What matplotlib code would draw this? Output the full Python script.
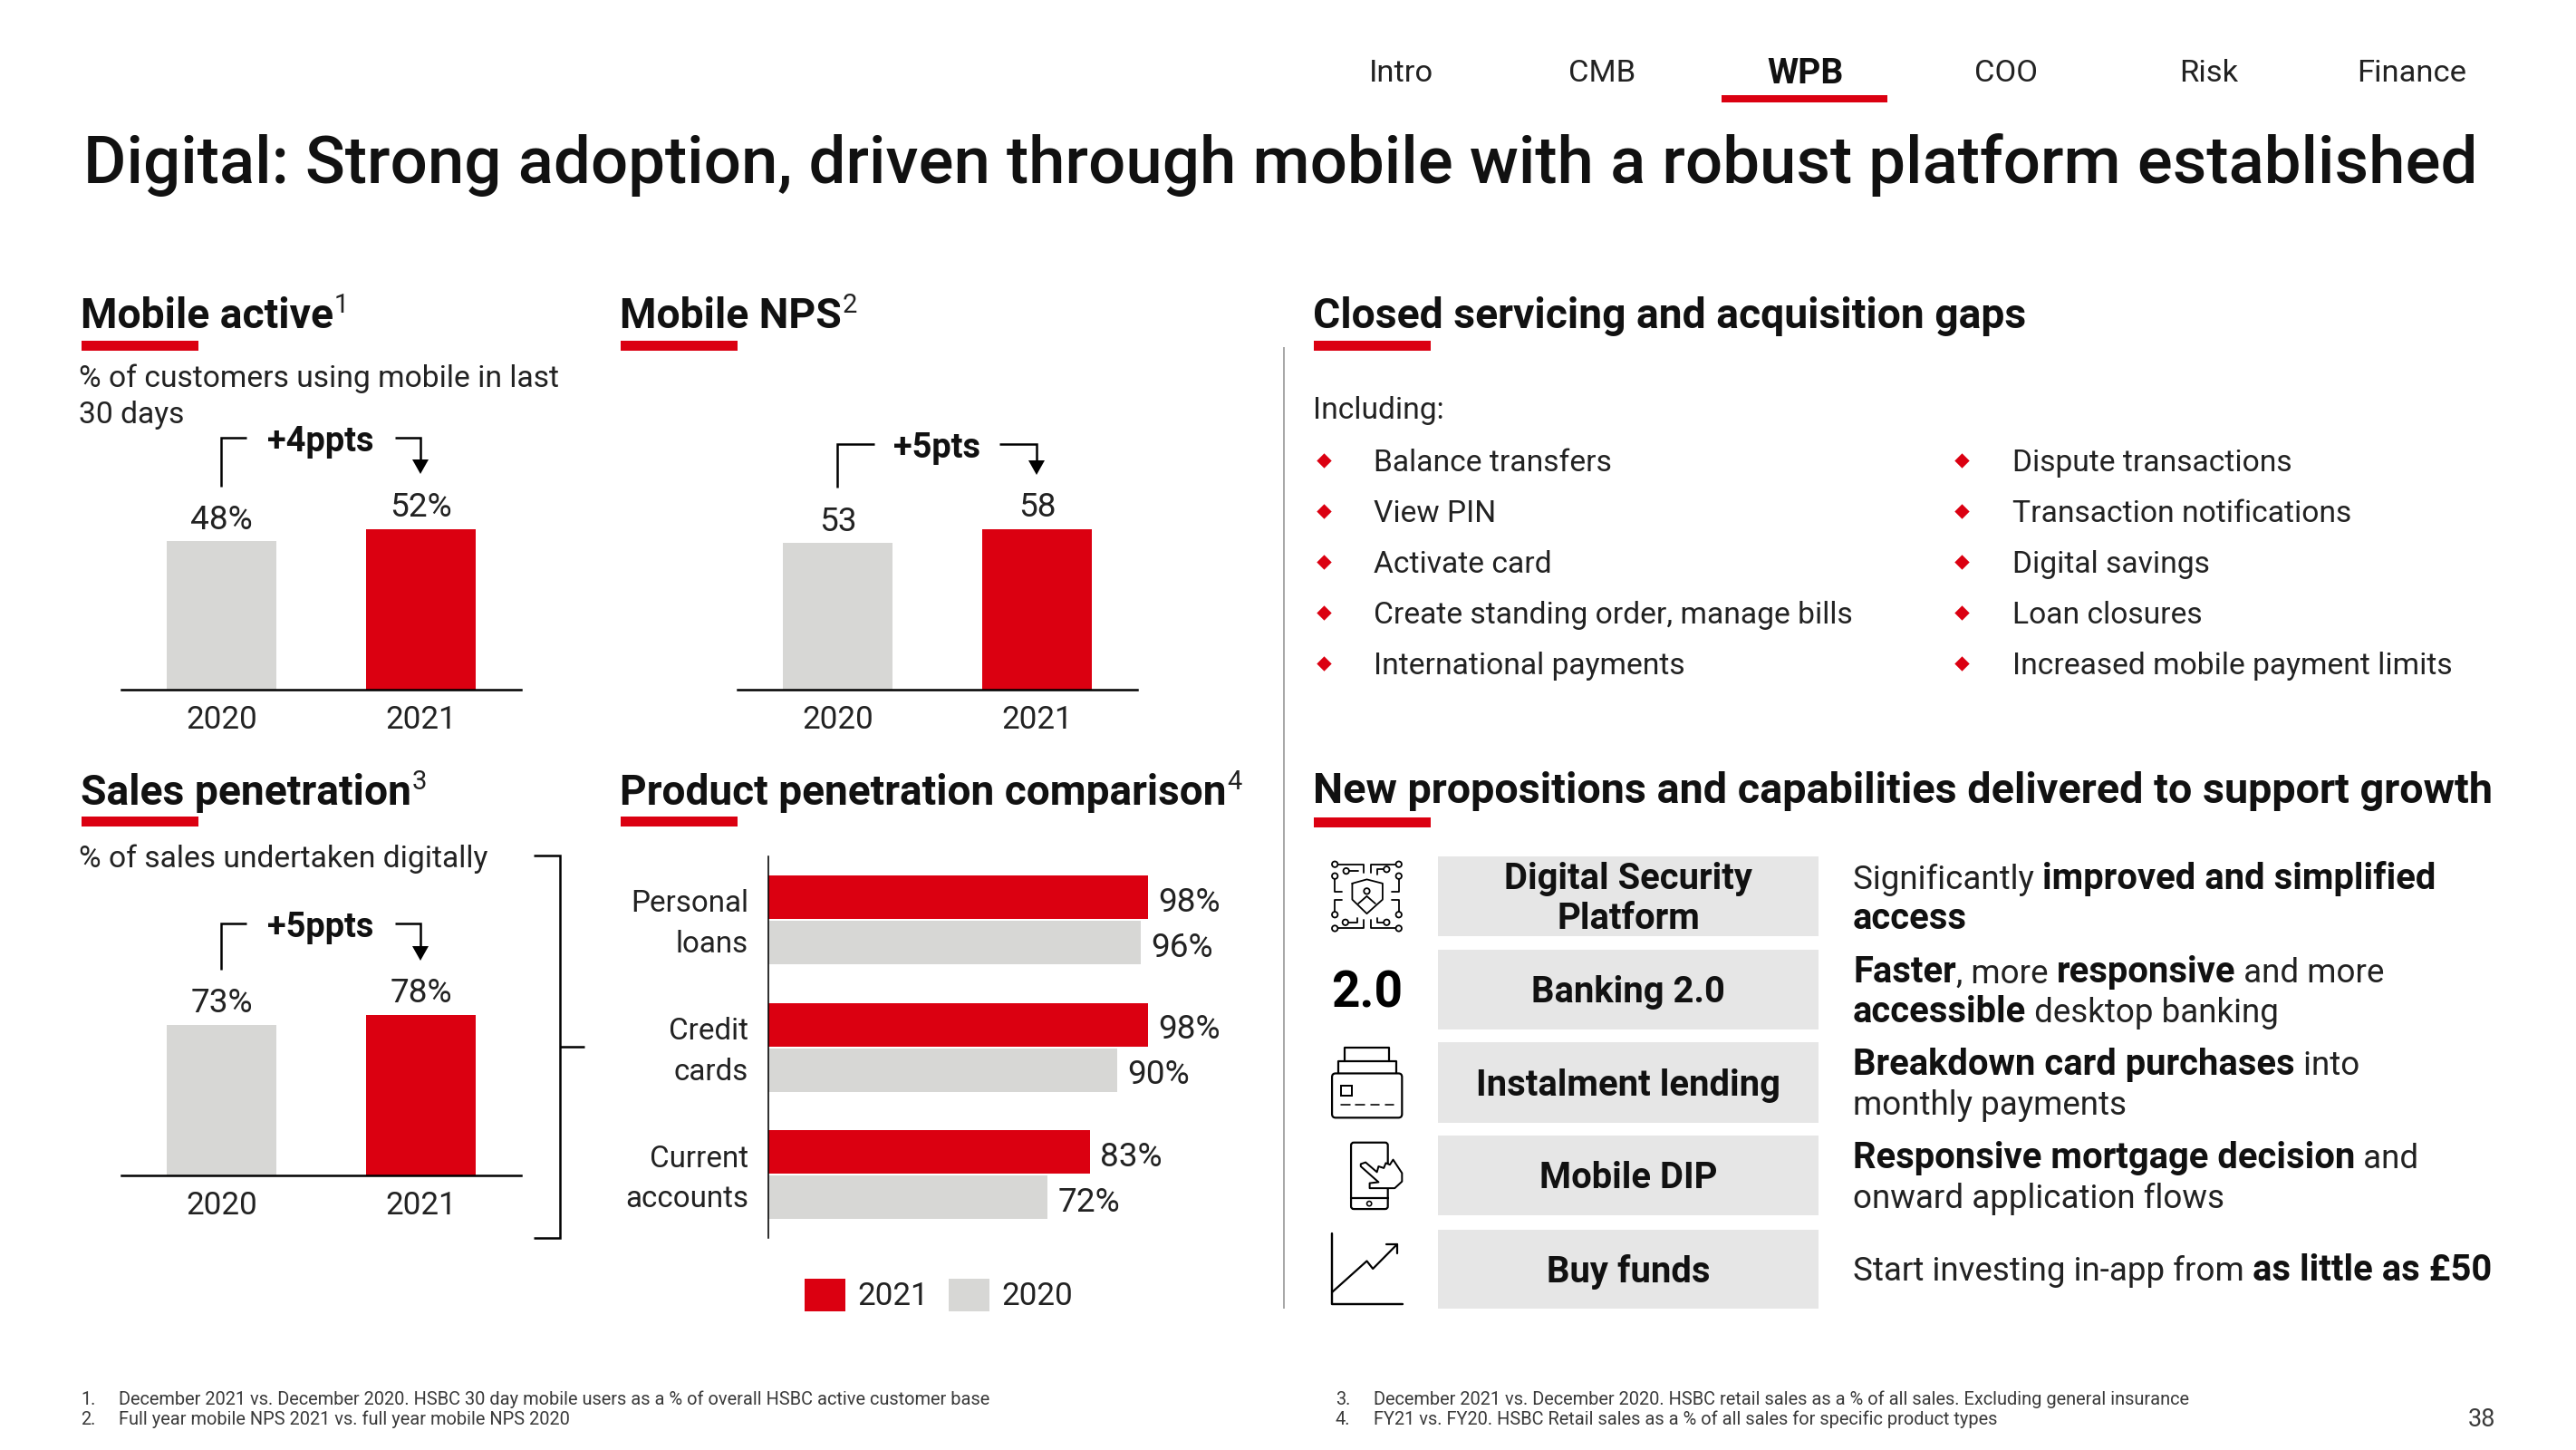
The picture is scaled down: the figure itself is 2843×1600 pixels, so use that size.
import matplotlib
matplotlib.use("Agg")
import matplotlib.pyplot as plt
from matplotlib.patches import Rectangle, Polygon, Circle, FancyBboxPatch
from matplotlib.transforms import ScaledTranslation

W, H = 2843, 1600
RED = "#DB0011"
GREY = "#D7D7D5"
FONT = ["Roboto", "DejaVu Sans"]
INK = "#222222"
plt.rcParams["font.family"] = FONT

# ---------- data ----------
years = ["2020", "2021"]
mobile_active = [48, 52]
mobile_nps = [53, 58]
sales_pen = [73, 78]
mobile_active_lab = ["48%", "52%"]
mobile_nps_lab = ["53", "58"]
sales_pen_lab = ["73%", "78%"]
products = ["Personal\nloans", "Credit\ncards", "Current\naccounts"]
prod_2021 = [98, 98, 83]
prod_2020 = [96, 90, 72]
nav_items = ["Intro", "CMB", "WPB", "COO", "Risk", "Finance"]
list_left = ["Balance transfers", "View PIN", "Activate card",
             "Create standing order, manage bills", "International payments"]
list_right = ["Dispute transactions", "Transaction notifications", "Digital savings",
              "Loan closures", "Increased mobile payment limits"]
box_labels = [["Digital Security", "Platform"], ["Banking 2.0"], ["Instalment lending"],
              ["Mobile DIP"], ["Buy funds"]]

fig = plt.figure(figsize=(W / 100, H / 100), dpi=100, facecolor="white")
ov = fig.add_axes([0, 0, 1, 1], zorder=5)
ov.set_xlim(0, W); ov.set_ylim(H, 0); ov.axis("off"); ov.patch.set_alpha(0)
rend = fig.canvas.get_renderer()

def P(v):
    return v * 72 / 100

def T(x, y, s, px=33.6, w="normal", ha="left", c=INK):
    return ov.text(x, y + 0.36 * px, s, fontsize=P(px), fontweight=w, ha=ha, va="baseline", color=c)

def adv(s, px, w):
    t = ov.text(0, 0, s + "|", fontsize=P(px), fontweight=w)
    a = t.get_window_extent(rend).width
    t.set_text("|")
    b = t.get_window_extent(rend).width
    t.remove()
    return a - b

def runs(x, y, parts, base=37):
    for s, w, px in parts:
        ov.text(x, y + 0.36 * base, s, fontsize=P(px), fontweight=w, ha="left", va="baseline",
                color="#111111" if w == "bold" else INK)
        x += adv(s, px, w)
    return x

def px_axes(x0, y0, x1, y1):
    return fig.add_axes([x0 / W, 1 - y1 / H, (x1 - x0) / W, (y1 - y0) / H])

def line(xs, ys, lw=2.5, c="black"):
    ov.plot(xs, ys, color=c, lw=P(lw), solid_capstyle="butt", solid_joinstyle="miter")

# ---------- header ----------
nav_x = [1546, 1768, 1992, 2214, 2438, 2662]
for n, x in zip(nav_items, nav_x):
    if n == "WPB":
        T(x, 78, n, 39, "bold", "center", "#111111")
    else:
        T(x, 78, n, 34.5, "normal", "center")
ov.add_patch(Rectangle((1900, 105), 183, 8, color=RED, lw=0))
T(92, 176, "Digital: Strong adoption, driven through mobile with a robust platform established", 72.6, "medium", c="#111111")

def heading(x, y, s, sup=None, bar_y=None, px=46.3):
    end = runs(x, y, [(s, "bold", px)], 44)
    if sup:
        ov.text(end + 1, y - 1, sup, fontsize=P(29), fontweight="normal", va="baseline", color=INK)
    ov.add_patch(Rectangle((x + 1, bar_y), 129, 11, color=RED, lw=0))

heading(89, 346, "Mobile active", "1", 376)
heading(684, 346, "Mobile NPS", "2", 376)
heading(1449, 346, "Closed servicing and acquisition gaps", None, 376)
heading(89, 872, "Sales penetration", "3", 901)
heading(684, 872, "Product penetration comparison", "4", 901, 46)
heading(1449, 870, "New propositions and capabilities delivered to support growth", None, 902, 46.8)

T(87, 415, "% of customers using mobile in last")
T(87, 455, "30 days")
T(87, 945, "% of sales undertaken digitally")
line([1417, 1417], [383, 1444], 2, "#A8A8A8")

# ---------- small column charts ----------
def columns(x0, x1, top, base, ymax, values, labels, delta, conn_top, conn_bot, tip, arm=28):
    ax = px_axes(x0, top, x1, base)
    ax.set_ylim(0, ymax)
    ax.set_xlim(-(110.5 / 220), (x1 - x0 - 110.5) / 220)
    ax.bar([0, 1], values, width=0.55, color=[GREY, RED])
    ax.set_xticks([0, 1], years)
    ax.tick_params(axis="x", length=0, pad=P(17), labelsize=P(35), labelcolor=INK)
    ax.set_yticks([])
    for k in ("top", "left", "right"):
        ax.spines[k].set_visible(False)
    ax.spines["bottom"].set_linewidth(P(2.5))
    for i, (v, l) in enumerate(zip(values, labels)):
        ax.annotate(l, (i, v), xytext=(0, P(5.5)), textcoords="offset points", ha="center", va="bottom",
                    fontsize=P(37), color=INK)
    c0 = x0 + 110
    c1 = c0 + 220
    line([c0, c0, c0 + arm], [conn_bot, conn_top, conn_top])
    line([c1 - arm, c1, c1], [conn_top, conn_top, tip - 14])
    ov.add_patch(Polygon([[c1 - 9, tip - 16], [c1 + 9, tip - 16], [c1, tip]], color="black", lw=0))
    T((c0 + c1) / 2, conn_top + 1, delta, 38, "bold", "center", "#111111")

columns(134, 575, 500, 761, 76.5, mobile_active, mobile_active_lab, "+4ppts", 483, 537, 523)
columns(814, 1255, 500, 761, 85.5, mobile_nps, mobile_nps_lab, "+5pts", 490, 538, 524, 41)
columns(134, 575, 1040, 1297, 113, sales_pen, sales_pen_lab, "+5ppts", 1019, 1070, 1060)

# bracket
line([589, 618, 618, 589], [944, 944, 1366, 1366], 2.5)
line([618, 645], [1155, 1155], 2.5)

# ---------- horizontal bars ----------
hx = px_axes(848, 945, 1360, 1366)
hx.patch.set_alpha(0)
scale = 4.28
hx.set_xlim(0, (1360 - 848) / scale)
pitch = 140.5
hx.set_ylim(2 + (1366 - 1015 - 281) / pitch, -(1015 - 945) / pitch)
pos = [0, 1, 2]
bh = 48 / pitch
off = 25 / pitch
hx.barh([p - off for p in pos], prod_2021, height=bh, color=RED, label="2021")
hx.barh([p + off for p in pos], prod_2020, height=bh, color=GREY, label="2020")
hx.set_yticks(pos, products)
hx.tick_params(axis="y", length=0, pad=P(22), labelsize=P(33.2), labelcolor=INK)
for lb in hx.get_yticklabels():
    lb.set_linespacing(1.5)
    lb.set_ha("right")
    lb.set_transform(lb.get_transform() + ScaledTranslation(0, 0.05, fig.dpi_scale_trans))
hx.set_xticks([])
for k in ("top", "right", "bottom"):
    hx.spines[k].set_visible(False)
hx.spines["left"].set_linewidth(P(1.6))
for p, a, b in zip(pos, prod_2021, prod_2020):
    hx.annotate(f"{a}%", (a, p - off), xytext=(P(11), P(-6)), textcoords="offset points", va="center",
                fontsize=P(37), color=INK)
    hx.annotate(f"{b}%", (b, p + off), xytext=(P(11), P(-6)), textcoords="offset points", va="center",
                fontsize=P(37), color=INK)
leg = hx.legend(loc="center", bbox_to_anchor=(1036, 1429), bbox_transform=ov.transData, frameon=False, ncol=2,
                prop={"size": P(35), "family": FONT},
                handlelength=45 / 35, handleheight=42 / 35, handletextpad=13 / 35, columnspacing=22 / 35,
                borderpad=0, borderaxespad=0)
for t in leg.get_texts():
    t.set_color(INK)

# ---------- lists ----------
T(1449, 450, "Including:")
row_y = [508, 564, 620, 676, 732]
ov.scatter([1461] * 5 + [2165] * 5, row_y * 2, marker="D", s=70, color=RED, lw=0)
for y, a, b in zip(row_y, list_left, list_right):
    T(1516, y, a)
    T(2221, y, b)

# ---------- propositions ----------
box_y = [(945, 1033), (1048, 1136), (1150, 1239), (1253, 1341), (1357, 1444)]
for (y0, y1), lab in zip(box_y, box_labels):
    ov.add_patch(Rectangle((1587, y0), 420, y1 - y0, color="#E6E6E6", lw=0))
    c = (y0 + y1) / 2
    if len(lab) == 2:
        T(1797, c - 22, lab[0], 40, "bold", "center", "#111111")
        T(1797, c + 22, lab[1], 40, "bold", "center", "#111111")
    else:
        T(1797, c, lab[0], 40, "bold", "center", "#111111")

B = ("bold", 40)
L = ("normal", 36.7)
runs(2045, 968, [("Significantly ", *L), ("improved and simplified", *B)])
runs(2045, 1012, [("access", *B)])
runs(2045, 1071, [("Faster", *B), (", more ", *L), ("responsive", *B), (" and more", *L)])
runs(2045, 1115, [("accessible", *B), (" desktop banking", *L)])
runs(2045, 1173, [("Breakdown card purchases", *B), (" into", *L)])
runs(2045, 1217, [("monthly payments", *L)])
runs(2045, 1276, [("Responsive mortgage decision", *B), (" and", *L)])
runs(2045, 1320, [("onward application flows", *L)])
runs(2045, 1400, [("Start investing in-app from ", *L), ("as little as £50", *B)])

# ---------- icons (decorative, in zoomed reference coordinates) ----------
def zx(X): return 1400 + X / 2.24
def zy(Y): return 900 + Y / 2.7
def zl(pts, lw=2.2, z=6):
    ov.plot([zx(p[0]) for p in pts], [zy(p[1]) for p in pts], color="black", lw=P(lw),
            solid_capstyle="round", solid_joinstyle="round", zorder=z)
def zc(X, Y, r=3.2, lw=1.8):
    ov.add_patch(Circle((zx(X), zy(Y)), r, fc="white", ec="black", lw=P(lw), zorder=7))

# security icon
for pts in ([(164, 145), (236, 145), (236, 170)], [(252, 170), (252, 145), (322, 145)],
            [(164, 180), (164, 228), (182, 228)], [(322, 180), (322, 228), (304, 228)],
            [(182, 250), (164, 250), (164, 295)], [(304, 250), (322, 250), (322, 295)],
            [(164, 336), (236, 336), (236, 310)], [(252, 310), (252, 336), (322, 336)],
            [(192, 165), (222, 165)], [(268, 175), (268, 160), (290, 160)],
            [(190, 318), (220, 318), (220, 305)], [(268, 305), (268, 318), (292, 318)],
            [(207, 202), (243, 190), (282, 202), (282, 250), (243, 292), (207, 250), (207, 202)],
            [(222, 262), (243, 240), (264, 262)]):
    zl(pts, 1.8)
for p in [(164, 145), (322, 145), (164, 180), (322, 180), (164, 295), (322, 295), (164, 336), (322, 336),
          (192, 165), (292, 160), (190, 318), (292, 318), (243, 225)]:
    zc(*p)

T(zx(243), zy(518), "2.0", 55, "bold", "center", "black")

# cards icon
ov.add_patch(FancyBboxPatch((zx(157), zy(768)), (330 - 157) / 2.24, (900 - 768) / 2.7,
                            boxstyle="round,pad=0,rounding_size=4", fc="none", ec="black", lw=P(2.2)))
zl([(172, 768), (172, 732), (315, 732), (315, 768)])
zl([(188, 732), (188, 692), (298, 692), (298, 732)])
ov.add_patch(Rectangle((zx(180), zy(804)), 12, 11, fc="none", ec="black", lw=P(2)))
for X in (180, 216, 252, 288):
    zl([(X, 862), (X + 22, 862)], 1.6)

# phone icon
ov.add_patch(FancyBboxPatch((zx(204), zy(974)), (295 - 204) / 2.24, (1172 - 974) / 2.7,
                            boxstyle="round,pad=0,rounding_size=3", fc="white", ec="black", lw=P(2.2), zorder=5.5))
zl([(204, 1140), (295, 1140)])
zc(249, 1156, 2.6, 1.6)
hand = [(228, 1038), (240, 1033), (268, 1062), (272, 1045), (285, 1050), (290, 1035), (300, 1040), (308, 1025),
        (330, 1065), (330, 1090), (312, 1110), (250, 1110), (250, 1095), (272, 1092), (228, 1045)]
ov.add_patch(Polygon([(zx(a), zy(b)) for a, b in hand], fc="white", ec="black", lw=P(2),
                     joinstyle="round", zorder=5.7))

# growth icon
zl([(157, 1245), (157, 1455), (332, 1455)], 2.4)
zl([(157, 1420), (243, 1327), (258, 1350), (318, 1277)], 2.2)
zl([(292, 1277), (318, 1277), (318, 1305)], 2.2)

# ---------- footnotes ----------
FN = "#3a3a3a"
for x_n, x_t, y, n, s in [
    (89, 131, 1543, "1.", "December 2021 vs. December 2020. HSBC 30 day mobile users as a % of overall HSBC active customer base"),
    (89, 131, 1565, "2.", "Full year mobile NPS 2021 vs. full year mobile NPS 2020"),
    (1474, 1516, 1543, "3.", "December 2021 vs. December 2020. HSBC retail sales as a % of all sales. Excluding general insurance"),
    (1474, 1516, 1565, "4.", "FY21 vs. FY20. HSBC Retail sales as a % of all sales for specific product types"),
]:
    T(x_n, y, n, 20, "normal", c=FN)
    T(x_t, y, s, 20, "normal", c=FN)
T(2754, 1564, "38", 27, "normal", "right", FN)

fig.savefig("out.png", dpi=100, facecolor="white")
